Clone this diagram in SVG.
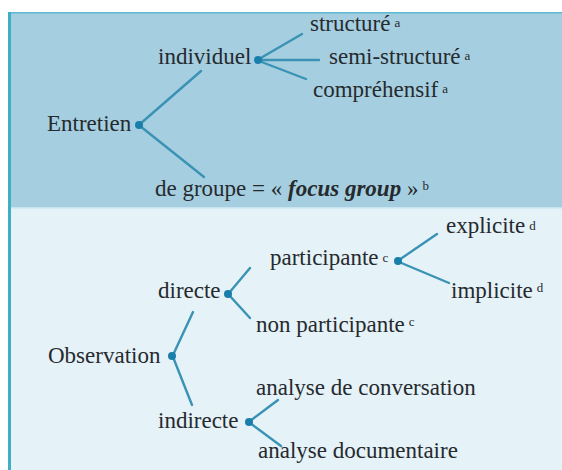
<svg xmlns="http://www.w3.org/2000/svg" width="562" height="470" viewBox="0 0 562 470">
<rect x="0" y="0" width="562" height="470" fill="#ffffff"/>
<rect x="8" y="12" width="554" height="196" fill="#a5cfe0"/>
<rect x="8" y="208" width="554" height="262" fill="#e5f2f8"/>
<rect x="8" y="12" width="554" height="1.5" fill="#5db9d2"/>
<rect x="8" y="207" width="554" height="1.5" fill="#c8e4ee"/>
<rect x="8" y="12" width="3" height="458" fill="#3fb0c2"/>
<g id="connectors" stroke="#3a93b4" stroke-width="2.4" fill="none" stroke-linecap="round">
<path d="M140 124 L201 71 M140 126 L204 177"/>
<path d="M259 59 L302 34 M259 60 L319 60 M259 61 L306 79"/>
<path d="M229 293 L250 268 M229 295 L250 318"/>
<path d="M173 355 L193 312 M173 357 L192 405"/>
<path d="M399 260 L437 234 M399 262 L449 283"/>
<path d="M250 421 L278 400 M250 423 L281 446"/>
</g>
<g font-family="'Liberation Serif', Tinos, 'Times New Roman', serif" font-size="23" fill="#262a2e">
<g id="entretien"><text x="47" y="131">Entretien</text><circle fill="#1a7eaa" cx="139" cy="125" r="4"/></g>
<g id="individuel"><text x="158" y="64">individuel</text><circle fill="#1a7eaa" cx="258" cy="60" r="4"/></g>
<g id="structure"><text x="310" y="31">structuré<tspan font-size="13" dx="4" dy="-4">a</tspan></text></g>
<g id="semi-structure"><text x="329" y="64">semi-structuré<tspan font-size="13" dx="4" dy="-4">a</tspan></text></g>
<g id="comprehensif"><text x="313" y="97">compréhensif<tspan font-size="13" dx="4" dy="-4">a</tspan></text></g>
<g id="de-groupe"><text x="155" y="196">de groupe = « <tspan font-weight="bold" font-style="italic">focus group</tspan> »<tspan font-size="13" dx="4" dy="-6">b</tspan></text></g>
<g id="observation"><text x="48" y="363">Observation</text><circle fill="#1a7eaa" cx="172" cy="356" r="4"/></g>
<g id="directe"><text x="158" y="298">directe</text><circle fill="#1a7eaa" cx="228" cy="294" r="4"/></g>
<g id="indirecte"><text x="158" y="428">indirecte</text><circle fill="#1a7eaa" cx="249" cy="422" r="4"/></g>
<g id="participante"><text x="270" y="265">participante<tspan font-size="13" dx="4" dy="-3">c</tspan></text><circle fill="#1a7eaa" cx="398" cy="261" r="4"/></g>
<g id="non-participante"><text x="256" y="332">non participante<tspan font-size="13" dx="4" dy="-6">c</tspan></text></g>
<g id="explicite"><text x="446" y="233">explicite<tspan font-size="13" dx="4" dy="-3">d</tspan></text></g>
<g id="implicite"><text x="451" y="298">implicite<tspan font-size="13" dx="4" dy="-6">d</tspan></text></g>
<g id="analyse-conversation"><text x="256" y="395">analyse de conversation</text></g>
<g id="analyse-documentaire"><text x="258" y="458">analyse documentaire</text></g>
</g>
</svg>
